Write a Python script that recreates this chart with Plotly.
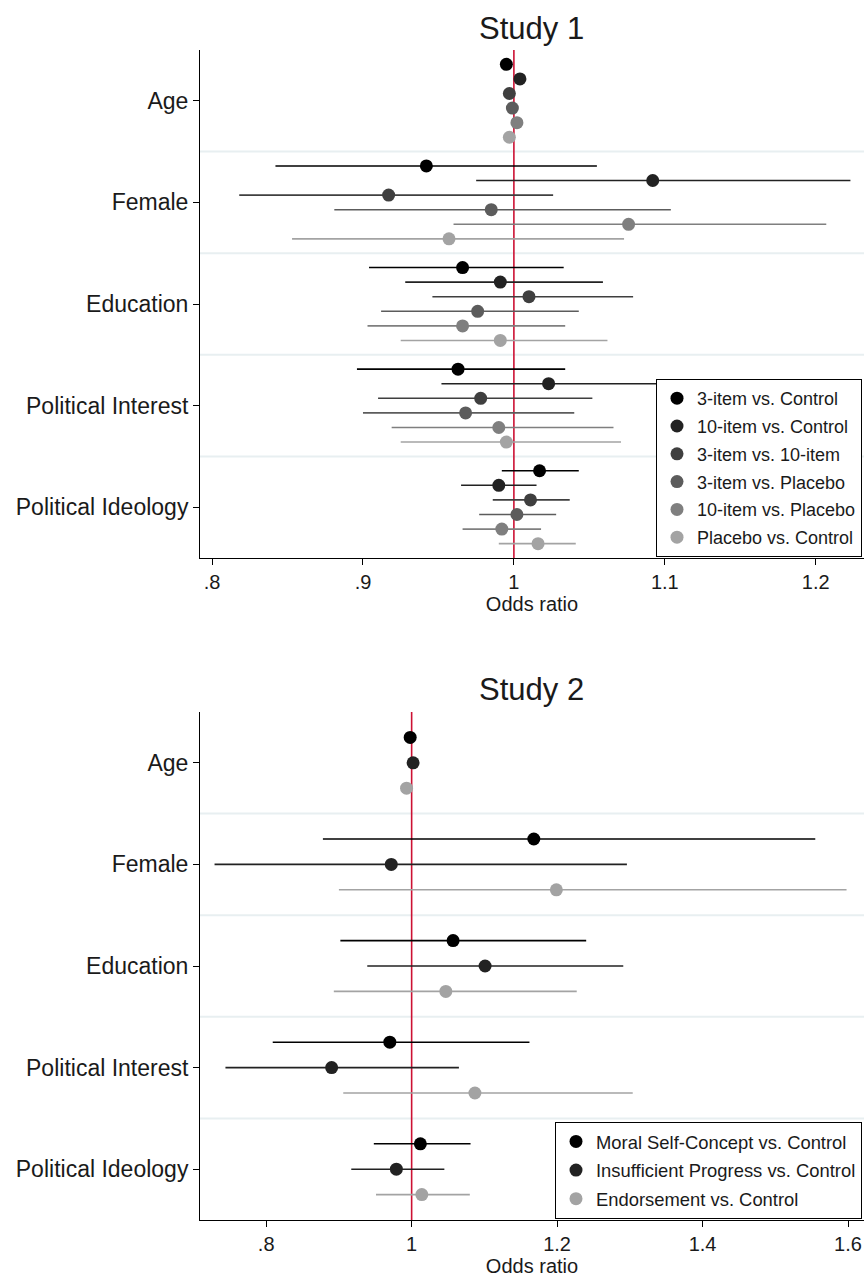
import plotly.graph_objects as go

# ---------------- data ----------------
categories = ["Age", "Female", "Education", "Political Interest", "Political Ideology"]

s1_names = ["3-item vs. Control", "10-item vs. Control", "3-item vs. 10-item",
            "3-item vs. Placebo", "10-item vs. Placebo", "Placebo vs. Control"]
# point estimates per series (order of categories)
s1_est = [
    [0.995, 0.942, 0.966, 0.963, 1.017],
    [1.004, 1.092, 0.991, 1.023, 0.990],
    [0.997, 0.917, 1.010, 0.978, 1.011],
    [0.999, 0.985, 0.976, 0.968, 1.002],
    [1.002, 1.076, 0.966, 0.990, 0.992],
    [0.997, 0.957, 0.991, 0.995, 1.016],
]
s1_lo = [
    [0.993, 0.842, 0.904, 0.896, 0.992],
    [1.002, 0.975, 0.928, 0.952, 0.965],
    [0.995, 0.818, 0.946, 0.910, 0.986],
    [0.997, 0.881, 0.912, 0.900, 0.977],
    [1.000, 0.960, 0.903, 0.919, 0.966],
    [0.995, 0.853, 0.925, 0.925, 0.990],
]
s1_hi = [
    [0.997, 1.055, 1.033, 1.034, 1.043],
    [1.006, 1.223, 1.059, 1.099, 1.015],
    [0.999, 1.026, 1.079, 1.052, 1.037],
    [1.001, 1.104, 1.043, 1.040, 1.028],
    [1.004, 1.207, 1.034, 1.066, 1.018],
    [0.999, 1.073, 1.062, 1.071, 1.041],
]

s2_names = ["Moral Self-Concept vs. Control", "Insufficient Progress vs. Control",
            "Endorsement vs. Control"]
s2_est = [
    [0.998, 1.168, 1.057, 0.970, 1.012],
    [1.002, 0.972, 1.101, 0.890, 0.979],
    [0.993, 1.199, 1.047, 1.087, 1.014],
]
s2_lo = [
    [0.990, 0.878, 0.902, 0.809, 0.948],
    [0.994, 0.729, 0.939, 0.744, 0.917],
    [0.987, 0.900, 0.893, 0.906, 0.951],
]
s2_hi = [
    [1.006, 1.555, 1.240, 1.162, 1.081],
    [1.010, 1.296, 1.291, 1.065, 1.045],
    [0.999, 1.598, 1.227, 1.304, 1.080],
]

s1_ticks = [0.8, 0.9, 1.0, 1.1, 1.2]
s1_ticktext = [".8", ".9", "1", "1.1", "1.2"]
s2_ticks = [0.8, 1.0, 1.2, 1.4, 1.6]
s2_ticktext = [".8", "1", "1.2", "1.4", "1.6"]

s1_colors = ["#000000", "#222222", "#3f3f3f", "#5c5c5c", "#7f7f7f", "#a3a3a3"]
s2_colors = ["#000000", "#222222", "#a3a3a3"]

# ---------------- figure ----------------
W, H = 865, 1279
FONT = "Liberation Sans, Arial, sans-serif"
TXT = "#1a1a1a"
fig = go.Figure()

def add_series(names, est, lo, hi, colors, xa, ya, legend, step):
    n = len(names)
    for j in range(n):
        off = (j - (n - 1) / 2) * step
        ys = [i + off for i in range(len(categories))]
        e = est[j]
        fig.add_trace(go.Scatter(
            x=e, y=ys, mode="markers", name=names[j],
            xaxis=xa, yaxis=ya, legend=legend, legendgroup=f"{legend}-{j}",
            marker=dict(color=colors[j], size=13, line=dict(width=0)),
            error_x=dict(type="data", symmetric=False,
                         array=[h - v for h, v in zip(hi[j], e)],
                         arrayminus=[v - l for v, l in zip(e, lo[j])],
                         color=colors[j], thickness=1.6, width=0),
            hoverinfo="x+name",
        ))

add_series(s1_names, s1_est, s1_lo, s1_hi, s1_colors, "x", "y", "legend", 0.1436)
add_series(s2_names, s2_est, s2_lo, s2_hi, s2_colors, "x2", "y2", "legend2", 0.25)

x_dom = [200 / W, 864 / W]
y1_dom = [1 - 558 / H, 1 - 50 / H]
y2_dom = [1 - 1220 / H, 1 - 712 / H]

axis_common = dict(showgrid=False, zeroline=False, showline=True, linecolor="black",
                   linewidth=1, ticks="outside", ticklen=6, tickcolor="black",
                   tickfont=dict(family=FONT, size=20, color=TXT))
ytick_font = dict(family=FONT, size=23, color=TXT)

fig.update_layout(
    width=W, height=H, autosize=False,
    margin=dict(l=0, r=0, t=0, b=0),
    paper_bgcolor="white", plot_bgcolor="white",
    font=dict(family=FONT, color=TXT),
    showlegend=True,
    xaxis=dict(domain=x_dom, anchor="y", range=[0.792, 1.232],
               tickvals=s1_ticks, ticktext=s1_ticktext,
               title=dict(text="Odds ratio", font=dict(family=FONT, size=20, color=TXT), standoff=0),
               **axis_common),
    yaxis=dict(domain=y1_dom, anchor="x", range=[4.5, -0.5],
               tickvals=list(range(len(categories))), ticktext=categories,
               **{**axis_common, "tickfont": ytick_font}),
    xaxis2=dict(domain=x_dom, anchor="y2", range=[0.709, 1.622],
                tickvals=s2_ticks, ticktext=s2_ticktext,
                title=dict(text="Odds ratio", font=dict(family=FONT, size=20, color=TXT), standoff=0),
                **axis_common),
    yaxis2=dict(domain=y2_dom, anchor="x2", range=[4.5, -0.5],
                tickvals=list(range(len(categories))), ticktext=categories,
                **{**axis_common, "tickfont": ytick_font}),
    legend=dict(x=862 / W, xanchor="right", y=1 - 557 / H, yanchor="bottom",
                bordercolor="black", borderwidth=1, bgcolor="white",
                font=dict(family=FONT, size=18, color=TXT),
                itemwidth=30, tracegroupgap=1.4, traceorder="grouped"),
    legend2=dict(x=862 / W, xanchor="right", y=1 - 1219 / H, yanchor="bottom",
                 bordercolor="black", borderwidth=1, bgcolor="white",
                 font=dict(family=FONT, size=18.4, color=TXT),
                 itemwidth=30, tracegroupgap=1.7, traceorder="grouped"),
)

# group separators (light gridlines) and reference line at OR = 1
shapes = []
for ya, xa in (("y", "x"), ("y2", "x2")):
    for k in range(len(categories) - 1):
        shapes.append(dict(type="line", xref=f"{xa} domain", yref=ya,
                           x0=0, x1=1, y0=k + 0.5, y1=k + 0.5,
                           line=dict(color="#e8eff1", width=2), layer="below"))
    shapes.append(dict(type="line", xref=xa, yref=f"{ya} domain",
                       x0=1, x1=1, y0=0, y1=1,
                       line=dict(color="#cc1133", width=1.6), layer="below"))
fig.update_layout(shapes=shapes)

fig.add_annotation(text="Study 1", xref="paper", yref="paper",
                   x=(x_dom[0] + x_dom[1]) / 2, y=1 - 28 / H, xanchor="center", yanchor="middle",
                   showarrow=False, font=dict(family=FONT, size=31, color=TXT))
fig.add_annotation(text="Study 2", xref="paper", yref="paper",
                   x=(x_dom[0] + x_dom[1]) / 2, y=1 - 689 / H, xanchor="center", yanchor="middle",
                   showarrow=False, font=dict(family=FONT, size=31, color=TXT))

fig.write_html("out.html",
               config={"displayModeBar": False},
               post_script="document.body.style.margin='0';"
                           "document.body.style.padding='0';"
                           "document.documentElement.style.overflow='hidden';")
